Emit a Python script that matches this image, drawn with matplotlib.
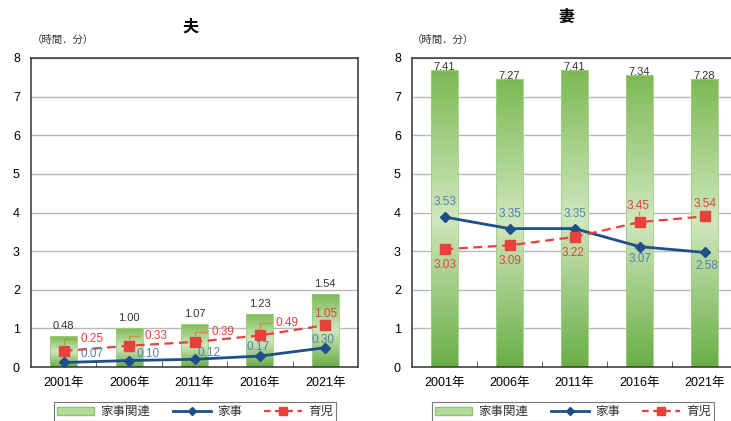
import matplotlib
matplotlib.use("Agg")
import matplotlib.pyplot as plt
import numpy as np
from matplotlib.colors import LinearSegmentedColormap
from matplotlib.lines import Line2D
from matplotlib.patches import Patch

plt.rcParams["font.family"] = ["Liberation Sans", "Noto Sans CJK JP", "DejaVu Sans"]

# 値は「時間.分」表記（7.41 = 7時間41分）
years = ["2001年", "2006年", "2011年", "2016年", "2021年"]

husband_related = [0.48, 1.00, 1.07, 1.23, 1.54]
husband_housework = [0.07, 0.10, 0.12, 0.17, 0.30]
husband_childcare = [0.25, 0.33, 0.39, 0.49, 1.05]

wife_related = [7.41, 7.27, 7.41, 7.34, 7.28]
wife_housework = [3.53, 3.35, 3.35, 3.07, 2.58]
wife_childcare = [3.03, 3.09, 3.22, 3.45, 3.54]

BLUE = "#1f4f8a"
BLUE_TXT = "#4f82b4"
RED = "#e8403a"
RED_TXT = "#e8403a"
LEADER = "#d98a3a"
GREEN_CMAP = LinearSegmentedColormap.from_list(
    "bar", ["#6aae47", "#cfe7bd", "#7cba54"])


def to_hours(v):
    """時間.分 -> 時間（小数）"""
    h = int(v + 1e-9)
    m = round((v - h) * 100)
    return h + m / 60.0


def fmt(v):
    return f"{v:.2f}"


def draw_panel(ax, related, housework, childcare, hw_offsets, cc_offsets,
               cc_leader, bar_label_dy):
    x = np.arange(len(years))
    rel_h = [to_hours(v) for v in related]
    hw_h = [to_hours(v) for v in housework]
    cc_h = [to_hours(v) for v in childcare]

    bars = ax.bar(x, rel_h, width=0.41, facecolor="none",
                  edgecolor="#9fcf80", linewidth=0.6, zorder=2)
    grad = np.linspace(0, 1, 200).reshape(-1, 1)
    for rect in bars:
        x0, y0 = rect.get_x(), rect.get_y()
        im = ax.imshow(grad, extent=[x0, x0 + rect.get_width(), y0, y0 + rect.get_height()],
                       origin="lower", aspect="auto", cmap=GREEN_CMAP, zorder=1.9)
        im.set_clip_path(rect)

    ax.plot(x, hw_h, color=BLUE, linewidth=2, marker="D", markersize=5, zorder=4)
    ax.plot(x, cc_h, color=RED, linewidth=1.6, linestyle=(0, (4, 2.5)),
            marker="s", markersize=7, zorder=4)

    for xi, v, h in zip(x, related, rel_h):
        ax.annotate(fmt(v), (xi, h), xytext=(0, bar_label_dy), textcoords="offset pixels",
                    ha="center", va="bottom", fontsize=8, color="#333333", zorder=5)

    for xi, v, h, (dx, dy, ha) in zip(x, housework, hw_h, hw_offsets):
        ax.annotate(fmt(v), (xi, h), xytext=(dx, dy), textcoords="offset pixels",
                    ha=ha, va="center", fontsize=8.5, color=BLUE_TXT, zorder=5)

    for xi, v, h, (dx, dy, ha), lead in zip(x, childcare, cc_h, cc_offsets, cc_leader):
        ax.annotate(fmt(v), (xi, h), xytext=(dx, dy), textcoords="offset pixels",
                    ha=ha, va="center", fontsize=8.5, color=RED_TXT, zorder=5)
        if lead == "elbow":
            ax.annotate("", (xi, h), xytext=(dx - 5, dy), textcoords="offset pixels",
                        arrowprops=dict(arrowstyle="-", color=LEADER, lw=0.9,
                                        shrinkA=0, shrinkB=5,
                                        connectionstyle="angle,angleA=0,angleB=90,rad=0"),
                        zorder=3)
        elif lead == "up":
            ax.annotate("", (xi, h), xytext=(0, dy - 6), textcoords="offset pixels",
                        arrowprops=dict(arrowstyle="-", color=LEADER, lw=0.9,
                                        shrinkA=0, shrinkB=5), zorder=3)

    ax.set_xlim(-0.5, len(years) - 0.5)
    ax.set_ylim(0, 8)
    ax.set_yticks(range(0, 9))
    ax.set_xticks(x)
    ax.set_xticklabels(years, fontsize=9)
    ax.set_xticks(np.arange(0.5, len(years) - 1, 1), minor=True)
    ax.tick_params(axis="x", which="major", length=0, pad=7)
    ax.tick_params(axis="x", which="minor", direction="in", length=4, color="#444444")
    ax.tick_params(axis="y", length=0, pad=8, labelsize=9)
    ax.yaxis.grid(True, color="#b9b9b9", linewidth=1)
    ax.set_axisbelow(True)
    for s in ax.spines.values():
        s.set_color("#333333")
        s.set_linewidth(1.1)


fig = plt.figure(figsize=(7.31, 4.21), dpi=100)
ax1 = fig.add_axes([31 / 731, 1 - 367 / 421, 327 / 731, 309 / 421])
ax2 = fig.add_axes([412 / 731, 1 - 367 / 421, 325 / 731, 309 / 421])

draw_panel(
    ax1, husband_related, husband_housework, husband_childcare,
    hw_offsets=[(17, 8, "left"), (7, 7, "left"), (3, 6, "left"), (-2, 9, "center"), (-2, 8, "center")],
    cc_offsets=[(17, 12, "left"), (15, 10, "left"), (17, 10, "left"), (16, 12, "left"), (0, 11, "center")],
    cc_leader=["elbow", "elbow", "elbow", "elbow", None],
    bar_label_dy=5,
)
draw_panel(
    ax2, wife_related, wife_housework, wife_childcare,
    hw_offsets=[(0, 15, "center"), (0, 15, "center"), (0, 15, "center"), (1, -12, "center"), (2, -14, "center")],
    cc_offsets=[(0, -16, "center"), (0, -16, "center"), (-2, -16, "center"), (-1, 16, "center"), (1, 12, "center")],
    cc_leader=[None, None, None, "up", None],
    bar_label_dy=-2,
)

fig.text(190 / 731, 1 - 27 / 421, "夫", ha="center", va="center", fontsize=11.5,
         fontweight="bold", family=["Noto Sans CJK JP"])
fig.text(566 / 731, 1 - 17 / 421, "妻", ha="center", va="center", fontsize=11.5,
         fontweight="bold", family=["Noto Sans CJK JP"])
fig.text(32 / 731, 1 - 40 / 421, "（時間．分）", ha="left", va="center", fontsize=7.5,
         color="#333333", family=["Noto Sans CJK JP"])
fig.text(412 / 731, 1 - 40 / 421, "（時間．分）", ha="left", va="center", fontsize=7.5,
         color="#333333", family=["Noto Sans CJK JP"])

handles = [
    Patch(facecolor="#b5db9c", edgecolor="#8cc56a"),
    Line2D([], [], color=BLUE, linewidth=2, marker="D", markersize=4),
    Line2D([], [], color=RED, linewidth=1.6, linestyle=(0, (3, 2)), marker="s", markersize=6),
]
labels = ["家事関連", "家事", "育児"]
for cx in (195, 573):
    leg = fig.legend(handles, labels, loc="upper center", bbox_to_anchor=(cx / 731, 1 - 402 / 421),
                     ncol=3, frameon=True, fancybox=False, edgecolor="#555555",
                     handlelength=3.0, handleheight=0.6, columnspacing=1.8, handletextpad=0.5,
                     borderpad=0.25, borderaxespad=0, numpoints=1,
                     prop={"family": ["Noto Sans CJK JP"], "size": 9})
    leg.get_frame().set_linewidth(0.8)
    for t in leg.get_texts():
        t.set_color("#333333")

fig.savefig("out.png", dpi=100)
